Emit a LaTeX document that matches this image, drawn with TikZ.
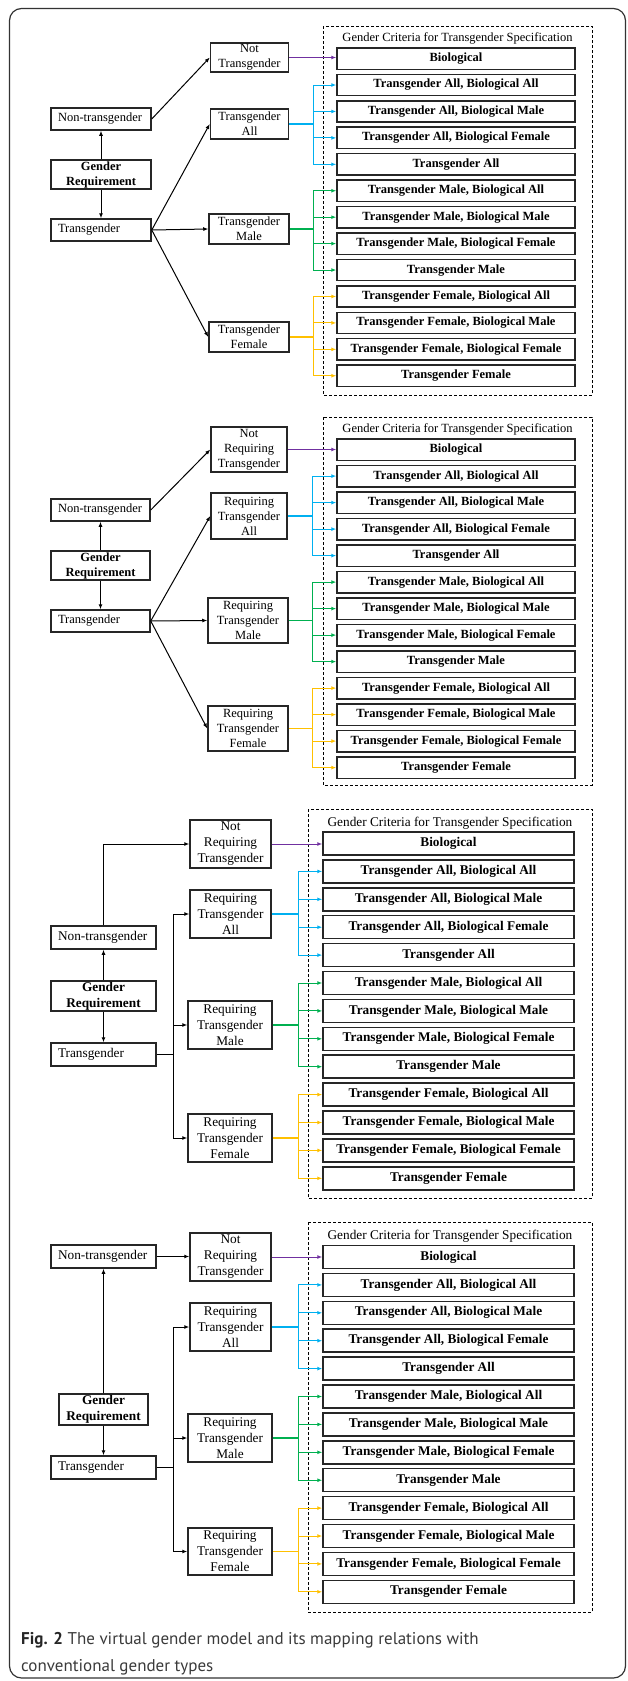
\documentclass[tikz,border=0pt]{standalone}
\usepackage{fontspec}
\setmainfont{Liberation Serif}
\newfontfamily\capfont{PT Sans}
\usetikzlibrary{arrows.meta}
\definecolor{cpurple}{HTML}{7030A0}
\definecolor{cblue}{HTML}{00B0F0}
\definecolor{cgreen}{HTML}{00B050}
\definecolor{corange}{HTML}{FFC000}
\definecolor{capgray}{HTML}{3A3A3A}
\newcommand\fsa{\fontsize{12.5}{15}\selectfont}
\newcommand\fsb{\fontsize{13.3}{16}\selectfont}
\newcommand\curfont{\fsa}
\tikzset{
  box/.style={draw=black!85, line width=1.5pt, inner sep=0pt, align=center, font=\curfont},
  bbox/.style={box, font=\curfont\bfseries},
  lbox/.style={box, align=left, inner xsep=7pt},
  arr/.style={-{Latex[length=5pt,width=4pt]}, line width=1pt},
  stub/.style={line width=1.8pt},
  thin/.style={line width=1pt},
  dbox/.style={dashed, dash pattern=on 3pt off 2pt, line width=1pt},
}
\newcommand\rcol[6]{%
  \foreach \t [count=\i from 0] in {Biological, {Transgender All, Biological All}, {Transgender All, Biological Male}, {Transgender All, Biological Female}, {Transgender All}, {Transgender Male, Biological All}, {Transgender Male, Biological Male}, {Transgender Male, Biological Female}, {Transgender Male}, {Transgender Female, Biological All}, {Transgender Female, Biological Male}, {Transgender Female, Biological Female}, {Transgender Female}}
    \node[bbox, minimum width={#3-#2}, minimum height=#6] (#1\i) at ({(#2+#3)/2}, {#4+\i*#5}) {\t};
}
\newcommand\branches[5]{% prefix, branch x, A node, M node, F node, (notreq handled separately)
  \coordinate (#1Bx) at (#2,0);
  \draw[cblue, stub] (#3.east) -- (#3.east -| #1Bx);
  \draw[cblue, thin] (#1Bx |- #11.west) -- (#1Bx |- #14.west);
  \foreach \i in {1,...,4} \draw[cblue, arr] (#1Bx |- #1\i.west) -- (#1\i.west);
  \draw[cgreen, stub] (#4.east) -- (#4.east -| #1Bx);
  \draw[cgreen, thin] (#1Bx |- #15.west) -- (#1Bx |- #18.west);
  \foreach \i in {5,...,8} \draw[cgreen, arr] (#1Bx |- #1\i.west) -- (#1\i.west);
  \draw[corange, stub] (#5.east) -- (#5.east -| #1Bx);
  \draw[corange, thin] (#1Bx |- #19.west) -- (#1Bx |- #112.west);
  \foreach \i in {9,...,12} \draw[corange, arr] (#1Bx |- #1\i.west) -- (#1\i.west);
}
\begin{document}
\begin{tikzpicture}[x=1pt,y=-1pt]
\useasboundingbox (0,0) rectangle (627,1681);
\draw[rounded corners=12pt, line width=1.2pt, black!80] (9.5,8.5) rectangle (625.5,1678);

% ---------------- Panel A ----------------
\renewcommand\curfont{\fsa}
\node[lbox, text width=86pt, minimum height=22] (aNT) at (101,119) {Non-transgender};
\node[bbox, minimum width=100, minimum height=29] (aGR) at (101,174.5) {Gender\\Requirement};
\node[lbox, text width=86pt, minimum height=22] (aTG) at (101,230) {Transgender};
\node[box, minimum width=78, minimum height=29] (aNR) at (249.5,57.5) {Not\\Transgender};
\node[box, minimum width=78, minimum height=30] (aTA) at (249.5,124) {Transgender\\All};
\node[box, minimum width=80, minimum height=30] (aTM) at (249,229) {Transgender\\Male};
\node[box, minimum width=80, minimum height=30] (aTF) at (249,337) {Transgender\\Female};
\draw[arr] (aGR) -- (aNT);
\draw[arr] (aGR) -- (aTG);
\draw[arr] (aNT.east) -- (aNR.west);
\draw[arr] (aTG.east) -- (aTA.west);
\draw[arr] (aTG.east) -- (aTM.west);
\draw[arr] (aTG.east) -- (aTF.west);
\draw[dbox] (323,26) rectangle (592,395);
\node[font=\fsa] (aTitle) at (457.5,38) {Gender Criteria for Transgender Specification};
\rcol{a}{337}{575}{58.6}{26.43}{21.3}
\draw[cpurple, arr] (aNR.east) -- (aNR.east -| a0.west);
\branches{a}{313}{aTA}{aTM}{aTF}

% ---------------- Panel B ----------------
\node[lbox, text width=85pt, minimum height=22] (bNT) at (100.5,510) {Non-transgender};
\node[bbox, minimum width=99, minimum height=29] (bGR) at (100.5,565.5) {Gender\\Requirement};
\node[lbox, text width=85pt, minimum height=22] (bTG) at (100.5,621) {Transgender};
\node[box, minimum width=76, minimum height=45] (bNR) at (249,449.5) {Not\\Requiring\\Transgender};
\node[box, minimum width=76, minimum height=46] (bTA) at (249,516) {Requiring\\Transgender\\All};
\node[box, minimum width=80, minimum height=45] (bTM) at (248,620.5) {Requiring\\Transgender\\Male};
\node[box, minimum width=80, minimum height=45] (bTF) at (248,728.5) {Requiring\\Transgender\\Female};
\draw[arr] (bGR) -- (bNT);
\draw[arr] (bGR) -- (bTG);
\draw[arr] (bNT.east) -- (bNR.west);
\draw[arr] (bTG.east) -- (bTA.west);
\draw[arr] (bTG.east) -- (bTM.west);
\draw[arr] (bTG.east) -- (bTF.west);
\draw[dbox] (323,417) rectangle (592,785);
\node[font=\fsa] (bTitle) at (457.5,429) {Gender Criteria for Transgender Specification};
\rcol{b}{337}{575}{449.6}{26.5}{21.3}
\draw[cpurple, arr] (bNR.east) -- (bNR.east -| b0.west);
\branches{b}{312}{bTA}{bTM}{bTF}

% ---------------- Panel C ----------------
\renewcommand\curfont{\fsb}
\node[lbox, text width=91pt, minimum height=23] (cNT) at (103.5,937.5) {Non-transgender};
\node[bbox, minimum width=105, minimum height=30] (cGR) at (103.5,996) {Gender\\Requirement};
\node[lbox, text width=91pt, minimum height=23] (cTG) at (103.5,1054.5) {Transgender};
\node[box, minimum width=81, minimum height=48] (cNR) at (230.5,844) {Not\\Requiring\\Transgender};
\node[box, minimum width=81, minimum height=48] (cTA) at (230.5,914) {Requiring\\Transgender\\All};
\node[box, minimum width=84, minimum height=48] (cTM) at (230,1025) {Requiring\\Transgender\\Male};
\node[box, minimum width=84, minimum height=48] (cTF) at (230,1138) {Requiring\\Transgender\\Female};
\draw[arr] (cGR) -- (cNT);
\draw[arr] (cGR) -- (cTG);
\draw[arr] (cNT.north) |- (cNR.west);
\coordinate (cTx) at (173,0);
\draw[stub] (cTG.east) -- (cTG.east -| cTx);
\draw[thin] (cTx |- cTA.west) -- (cTx |- cTF.west);
\draw[arr] (cTx |- cTA.west) -- (cTA.west);
\draw[arr] (cTx |- cTM.west) -- (cTM.west);
\draw[arr] (cTx |- cTF.west) -- (cTF.west);
\draw[dbox] (308,809) rectangle (592,1198);
\node[font=\fsb] (cTitle) at (450,823) {Gender Criteria for Transgender Specification};
\rcol{c}{323}{574}{843.5}{27.9}{23}
\draw[cpurple, arr] (cNR.east) -- (cNR.east -| c0.west);
\branches{c}{298}{cTA}{cTM}{cTF}

% ---------------- Panel D ----------------
\node[lbox, text width=91pt, minimum height=23] (dNT) at (103.5,1256.5) {Non-transgender};
\node[bbox, minimum width=89, minimum height=31] (dGR) at (103.5,1409.5) {Gender\\Requirement};
\node[lbox, text width=91pt, minimum height=23] (dTG) at (103.5,1467.5) {Transgender};
\node[box, minimum width=81, minimum height=48] (dNR) at (230.5,1257) {Not\\Requiring\\Transgender};
\node[box, minimum width=81, minimum height=48] (dTA) at (230.5,1327) {Requiring\\Transgender\\All};
\node[box, minimum width=84, minimum height=48] (dTM) at (230,1438) {Requiring\\Transgender\\Male};
\node[box, minimum width=84, minimum height=47] (dTF) at (230,1551.5) {Requiring\\Transgender\\Female};
\draw[arr] (dGR) -- (dNT);
\draw[arr] (dGR) -- (dTG);
\draw[arr] (dNT.east) -- (dNT.east -| dNR.west);
\coordinate (dTx) at (173,0);
\draw[stub] (dTG.east) -- (dTG.east -| dTx);
\draw[thin] (dTx |- dTA.west) -- (dTx |- dTF.west);
\draw[arr] (dTx |- dTA.west) -- (dTA.west);
\draw[arr] (dTx |- dTM.west) -- (dTM.west);
\draw[arr] (dTx |- dTF.west) -- (dTF.west);
\draw[dbox] (308,1222) rectangle (592,1612);
\node[font=\fsb] (dTitle) at (450,1236) {Gender Criteria for Transgender Specification};
\rcol{d}{323}{574}{1257}{27.9}{23}
\draw[cpurple, arr] (dNR.east) -- (dNR.east -| d0.west);
\branches{d}{298}{dTA}{dTM}{dTF}

% ---------------- Caption ----------------
\node[anchor=base west, inner sep=0pt, font=\capfont\fontsize{17}{27}\selectfont, text=capgray] (cap1) at (21,1644) {{\bfseries\color{black!85}Fig. 2} The virtual gender model and its mapping relations with};
\node[anchor=base west, inner sep=0pt, font=\capfont\fontsize{17}{27}\selectfont, text=capgray] (cap2) at (21,1671) {conventional gender types};
\end{tikzpicture}
\end{document}
